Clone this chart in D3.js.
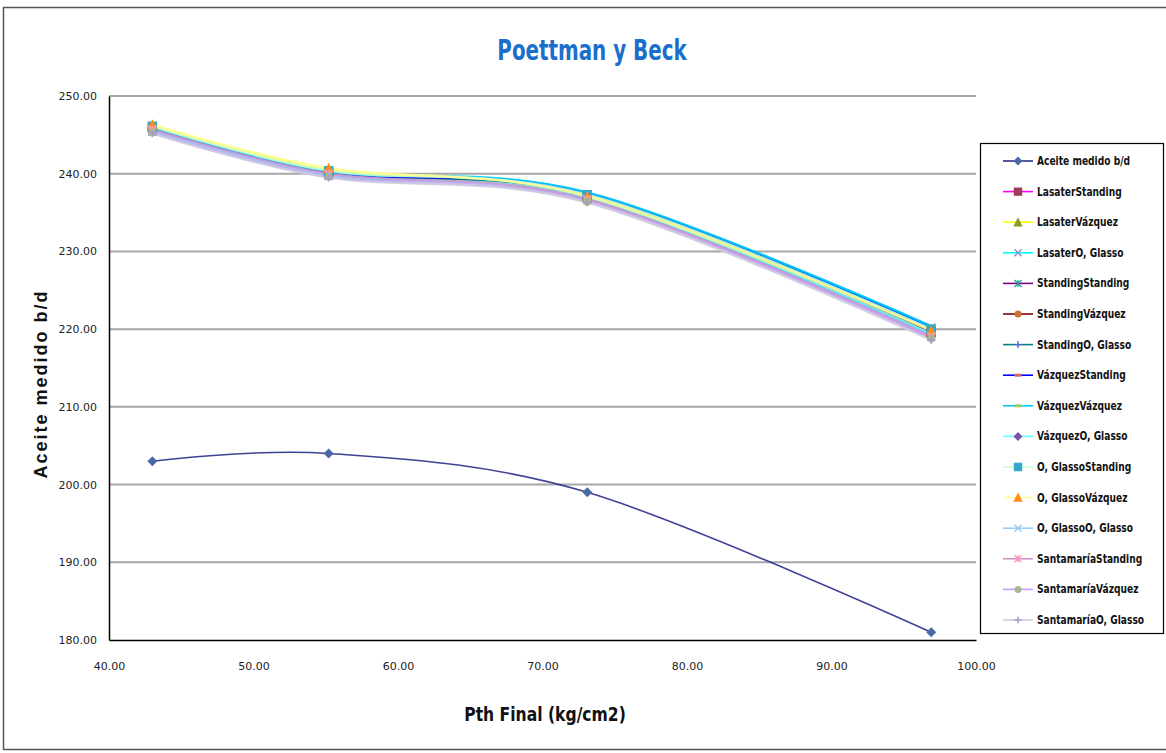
<!DOCTYPE html>
<html>
<head>
<meta charset="utf-8">
<script src="https://cdn.jsdelivr.net/npm/d3@7/dist/d3.min.js"></script>
<style>
  html, body { margin: 0; padding: 0; background: #fff; }
  svg { display: block; }
</style>
</head>
<body>
<svg id="chart" width="1166" height="753"></svg>
<script>
// Final tubing-head pressure (kg/cm2) for each test point
const pthFinal = [43.0, 55.2, 73.1, 96.9];

// Measured oil rate and the rates computed with each correlation pair
const seriesNames = [
  "Aceite medido b/d",
  "LasaterStanding", "LasaterVázquez", "LasaterO, Glasso",
  "StandingStanding", "StandingVázquez", "StandingO, Glasso",
  "VázquezStanding", "VázquezVázquez", "VázquezO, Glasso",
  "O, GlassoStanding", "O, GlassoVázquez", "O, GlassoO, Glasso",
  "SantamaríaStanding", "SantamaríaVázquez", "SantamaríaO, Glasso"
];
const aceiteMedido      = [203.0, 204.0, 199.0, 181.0];
const lasaterStanding   = [245.9, 240.2, 237.0, 219.6];
const lasaterVazquez    = [246.2, 240.6, 237.2, 219.9];
const lasaterGlasso     = [245.4, 239.7, 237.4, 220.2];
const standingStanding  = [245.6, 239.9, 236.8, 219.3];
const standingVazquez   = [245.9, 240.2, 237.0, 219.7];
const standingGlasso    = [245.7, 240.0, 237.2, 219.9];
const vazquezStanding   = [245.8, 240.1, 237.5, 220.3];
const vazquezVazquez    = [246.0, 240.3, 237.6, 220.4];
const vazquezGlasso     = [245.5, 239.8, 236.9, 219.4];
const glassoStanding    = [246.1, 240.4, 237.3, 220.0];
const glassoVazquez     = [246.3, 240.7, 237.1, 219.8];
const glassoGlasso      = [245.6, 239.9, 236.6, 219.1];
const santamariaStanding= [245.7, 240.0, 236.7, 219.0];
const santamariaVazquez = [245.3, 239.6, 236.4, 218.8];
const santamariaGlasso  = [245.2, 239.5, 236.3, 218.6];

const seriesValues = [
  aceiteMedido,
  lasaterStanding, lasaterVazquez, lasaterGlasso,
  standingStanding, standingVazquez, standingGlasso,
  vazquezStanding, vazquezVazquez, vazquezGlasso,
  glassoStanding, glassoVazquez, glassoGlasso,
  santamariaStanding, santamariaVazquez, santamariaGlasso
];

const xTicks = [40, 50, 60, 70, 80, 90, 100];
const yTicks = [180, 190, 200, 210, 220, 230, 240, 250];

// Line colour, marker colour and marker shape per series
const lineColors = ["#2b2e8c", "#ff00ff", "#ffff00", "#00ffff", "#800080", "#800000", "#008080",
  "#0000ff", "#00ccff", "#66ffff", "#ccffcc", "#ffff99", "#99ccff", "#cc99cc", "#cc99ff", "#ccccdd"];
const markerColors = ["#4a6aa5", "#a03a5a", "#8a9a2a", "#9a8ac8", "#33a0a0", "#d07030", "#5a6ad0",
  "#d06a6a", "#9acc66", "#7a55b0", "#33a8c8", "#ff8c1a", "#99c8ee", "#ff99aa", "#a8b890", "#aa99cc"];
const markerShapes = ["diamond", "square", "triangle", "x", "star", "circle", "plus",
  "dash", "dash", "diamond", "square", "triangle", "x", "star", "circle", "plus"];

const svg = d3.select("#chart");
const font = "'DejaVu Sans', sans-serif";

// Narrow bold text: drawn in DejaVu Sans and squeezed horizontally
function narrowText(parent, tx, ty, str, size, sx, anchor, color) {
  return parent.append("text")
    .attr("transform", `translate(${tx},${ty}) scale(${sx},1)`)
    .attr("text-anchor", anchor).text(str)
    .attr("font-family", font).attr("font-size", size).attr("font-weight", "bold").attr("fill", color);
}

// Outer chart border
svg.append("rect").attr("x", 3.5).attr("y", 7.5).attr("width", 1170).attr("height", 742)
  .attr("fill", "#fff").attr("stroke", "#555").attr("stroke-width", 1.5);

const plot = { left: 109, right: 976, top: 96, bottom: 640 };
const x = d3.scaleLinear().domain([40, 100]).range([plot.left, plot.right]);
const y = d3.scaleLinear().domain([180, 250]).range([plot.bottom, plot.top]);

// Horizontal gridlines
svg.append("g").selectAll("line").data(yTicks.filter(v => v > 180)).join("line")
  .attr("x1", plot.left).attr("x2", plot.right)
  .attr("y1", d => y(d)).attr("y2", d => y(d))
  .attr("stroke", "#a6a6a6").attr("stroke-width", 2);

// Axes
const yAxis = svg.append("g").attr("transform", `translate(${plot.left},0)`)
  .call(d3.axisLeft(y).tickValues(yTicks).tickFormat(d3.format(".2f")).tickSize(0).tickPadding(12));
const xAxis = svg.append("g").attr("transform", `translate(0,${plot.bottom})`)
  .call(d3.axisBottom(x).tickValues(xTicks).tickFormat(d3.format(".2f")).tickSize(0).tickPadding(22));
[yAxis, xAxis].forEach(a => {
  a.select(".domain").attr("stroke", "#000").attr("stroke-width", 1.5);
  a.selectAll("text").attr("font-family", font).attr("font-size", 11).attr("fill", "#222");
});

// Smoothed lines in the style of spreadsheet "smoothed line" charts
const line = d3.line().x((d, i) => x(pthFinal[i])).y(d => y(d)).curve(d3.curveCardinal.tension(0));

function markerPath(shape, s) {
  switch (shape) {
    case "diamond": return `M0,${-s}L${s},0L0,${s}L${-s},0Z`;
    case "square": return `M${-s},${-s}H${s}V${s}H${-s}Z`;
    case "triangle": return `M0,${-s}L${s},${s}H${-s}Z`;
    case "x": return `M${-s},${-s}L${s},${s}M${s},${-s}L${-s},${s}`;
    case "star": return `M${-s},${-s}L${s},${s}M${s},${-s}L${-s},${s}M0,${-s}V${s}`;
    case "plus": return `M${-s},0H${s}M0,${-s}V${s}`;
    case "dash": return `M${-s},0H${s}`;
    default: return "";
  }
}
function drawMarker(g, shape, color, cx, cy, s) {
  const filled = ["diamond", "square", "triangle", "circle"].includes(shape);
  if (shape === "circle") {
    g.append("circle").attr("cx", cx).attr("cy", cy).attr("r", s).attr("fill", color);
  } else {
    g.append("path").attr("d", markerPath(shape, s)).attr("transform", `translate(${cx},${cy})`)
      .attr("fill", filled ? color : "none").attr("stroke", color)
      .attr("stroke-width", shape === "dash" ? 3 : 1.4);
  }
}

const seriesG = svg.append("g");
seriesValues.forEach((vals, k) => {
  seriesG.append("path").datum(vals).attr("d", line).attr("fill", "none")
    .attr("stroke", lineColors[k]).attr("stroke-width", k === 0 ? 1.6 : 2.4).attr("opacity", 0.9);
});
seriesValues.forEach((vals, k) => {
  vals.forEach((v, i) => drawMarker(seriesG, markerShapes[k], markerColors[k], x(pthFinal[i]), y(v), 4));
});

// Legend
const lg = svg.append("g");
lg.append("rect").attr("x", 980.5).attr("y", 143.5).attr("width", 183).attr("height", 490)
  .attr("fill", "#fff").attr("stroke", "#000").attr("stroke-width", 1.2);
seriesNames.forEach((name, k) => {
  const ly = 161 + k * 30.6;
  lg.append("line").attr("x1", 1003).attr("x2", 1033).attr("y1", ly).attr("y2", ly)
    .attr("stroke", lineColors[k]).attr("stroke-width", 1.6);
  drawMarker(lg, markerShapes[k], markerColors[k], 1018, ly, 3.5);
  narrowText(lg, 1037, ly + 4, name, 12, 0.76, "start", "#111");
});

// Titles
narrowText(svg, 592, 60, "Poettman y Beck", 28, 0.71, "middle", "#1a6fcc");
narrowText(svg, 545, 721, "Pth Final (kg/cm2)", 20, 0.78, "middle", "#111");
svg.append("text").attr("transform", "translate(47,384) rotate(-90)").attr("text-anchor", "middle")
  .text("Aceite medido b/d")
  .attr("font-family", "'Liberation Sans', Arial, sans-serif").attr("font-size", 18)
  .attr("font-weight", "bold").attr("letter-spacing", 2).attr("fill", "#111");
</script>
</body>
</html>
